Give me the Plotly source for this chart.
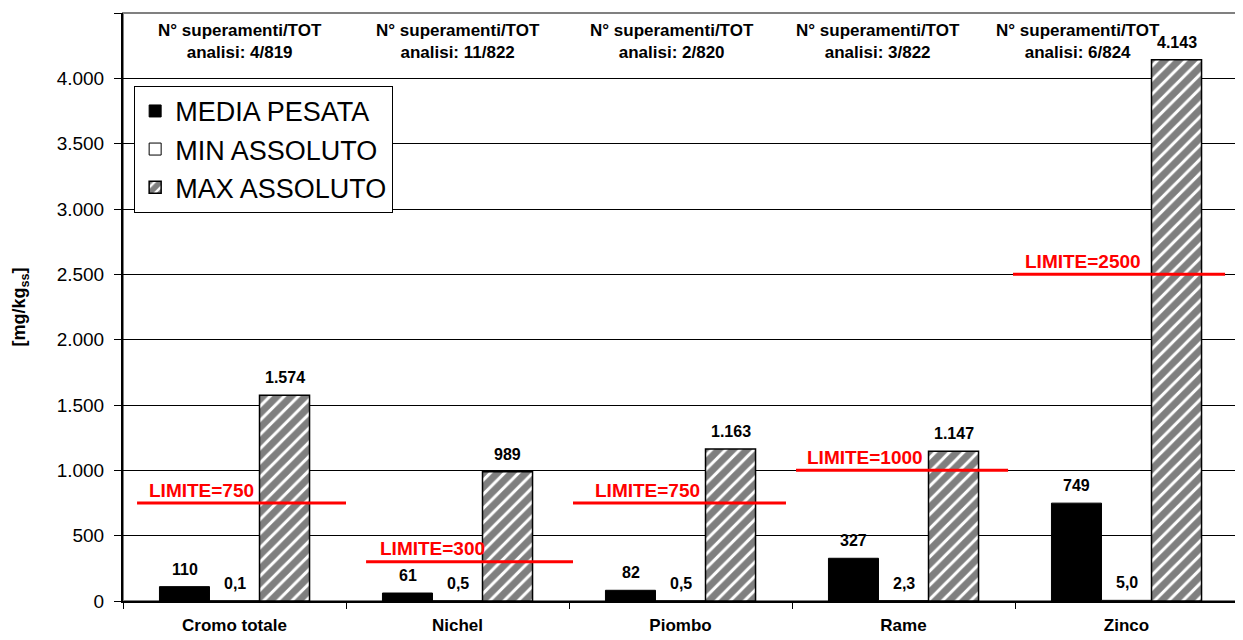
import plotly.graph_objects as go

categories = ["Cromo totale", "Nichel", "Piombo", "Rame", "Zinco"]
media_pesata = [110, 61, 82, 327, 749]
min_assoluto = [0.1, 0.5, 0.5, 2.3, 5.0]
max_assoluto = [1574, 989, 1163, 1147, 4143]
limiti = [750, 300, 750, 1000, 2500]
superamenti = ["4/819", "11/822", "2/820", "3/822", "6/824"]
y_ticks = [0, 500, 1000, 1500, 2000, 2500, 3000, 3500, 4000, 4500]

FONT = "Liberation Sans, Arial, sans-serif"

# layout helpers (positions / styles)
limit_x0 = [0.063, 0.09, 0.018, 0.018, -0.009]   # from category left edge, in category units
limit_x1 = [1.0, 1.018, 0.973, 0.969, 0.942]
limit_lab = [0.108, 0.144, 0.108, 0.058, 0.036]
top_shift = [5.5, 0.5, -8.5, -25.5, -48.5]
bar_shift = [-50, 0, 50]

def fmt_int(v):
    return f"{v:,.0f}".replace(",", ".")

def fmt_dec(v):
    return f"{v:.1f}".replace(".", ",")

fig = go.Figure()
fig.add_trace(go.Bar(x=categories, y=media_pesata, name="MEDIA PESATA",
                     marker=dict(color="black", line=dict(color="black", width=1))))
fig.add_trace(go.Bar(x=categories, y=min_assoluto, name="MIN ASSOLUTO",
                     marker=dict(color="white", line=dict(color="black", width=1))))
fig.add_trace(go.Bar(x=categories, y=max_assoluto, name="MAX ASSOLUTO",
                     marker=dict(color="white", line=dict(color="black", width=1.5),
                                 pattern=dict(shape="/", fgcolor="black", bgcolor="white",
                                              size=10, solidity=0.7))))

annotations = []
series = [(media_pesata, fmt_int), (min_assoluto, fmt_dec), (max_assoluto, fmt_int)]
for si, (vals, f) in enumerate(series):
    for j, v in enumerate(vals):
        annotations.append(dict(x=categories[j], y=v, xref="x", yref="y",
                                text=f"<b>{f(v)}</b>", showarrow=False,
                                xanchor="center", yanchor="bottom",
                                xshift=bar_shift[si], yshift=7,
                                font=dict(family=FONT, size=16, color="black")))

shapes = []
for j, lim in enumerate(limiti):
    shapes.append(dict(type="line", xref="x", yref="y",
                       x0=j - 0.5 + limit_x0[j], x1=j - 0.5 + limit_x1[j],
                       y0=lim, y1=lim, line=dict(color="#ff0000", width=3)))
    annotations.append(dict(x=j - 0.5 + limit_lab[j], y=lim, xref="x", yref="y",
                            text=f"<b>LIMITE={lim}</b>", showarrow=False,
                            xanchor="left", yanchor="middle", yshift=13,
                            font=dict(family=FONT, size=19, color="#ff0000")))
    annotations.append(dict(x=categories[j], y=0.951, xref="x", yref="paper",
                            text=f"<b>N° superamenti/TOT<br>analisi: {superamenti[j]}</b>",
                            showarrow=False, xanchor="center", yanchor="middle",
                            xshift=top_shift[j],
                            font=dict(family=FONT, size=17, color="black")))

# y-axis title
annotations.append(dict(x=-0.092, y=0.5, xref="paper", yref="paper", showarrow=False,
                        text="<b>[mg/kg<sub>ss</sub>]</b>", textangle=-90,
                        xanchor="center", yanchor="middle",
                        font=dict(family=FONT, size=18, color="black")))

# plot frame (top/right)
shapes.append(dict(type="rect", xref="paper", yref="paper", x0=0, x1=1, y0=0, y1=1,
                   line=dict(color="#808080", width=2), layer="below"))

fig.update_layout(
    width=1243, height=640,
    margin=dict(l=115, r=13, t=5, b=47),
    paper_bgcolor="white", plot_bgcolor="white",
    barmode="group", bargap=0.327, bargroupgap=0,
    separators=",.",
    font=dict(family=FONT, color="black"),
    showlegend=True,
    legend=dict(x=0.01, y=0.876, xanchor="left", yanchor="top",
                bgcolor="white", bordercolor="black", borderwidth=1,
                font=dict(family=FONT, size=27, color="black"),
                tracegroupgap=0, itemwidth=30),
    annotations=annotations,
    shapes=shapes,
)
fig.update_xaxes(type="category", tickson="boundaries", ticks="outside", ticklen=6,
                 tickcolor="black", showline=True, linecolor="black", linewidth=2,
                 showgrid=False, tickfont=dict(family=FONT, size=17, color="black"),
                 tickprefix="<b>", ticksuffix="</b>", range=[-0.5, 4.5],
                 ticklabelstandoff=8)
fig.update_yaxes(range=[0, 4500], tickvals=y_ticks, tickformat=",d",
                 ticks="outside", ticklen=7, tickcolor="black",
                 showline=True, linecolor="black", linewidth=2,
                 showgrid=True, gridcolor="#000000", gridwidth=1, zeroline=False,
                 tickfont=dict(family=FONT, size=19, color="black"),
                 ticklabelstandoff=6)

fig.write_html("out.html")
